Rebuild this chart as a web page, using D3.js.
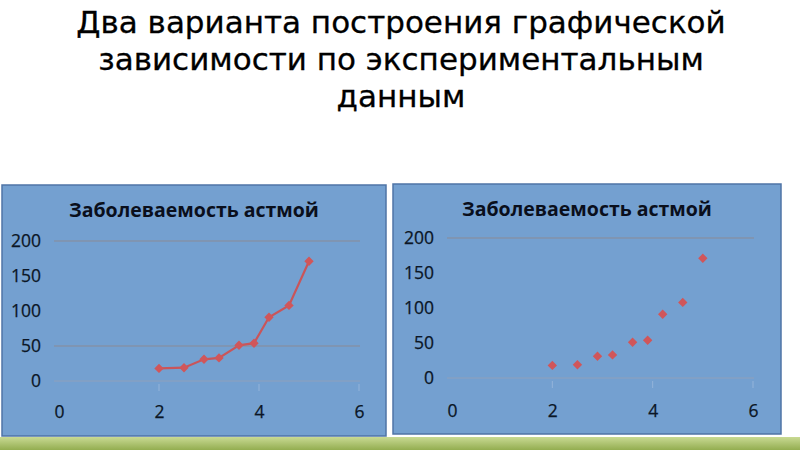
<!DOCTYPE html>
<html>
<head>
<meta charset="utf-8">
<script src="https://cdn.jsdelivr.net/npm/d3@7"></script>
<style>
  body { margin: 0; background: #fff; }
  svg { display: block; }
</style>
</head>
<body>
<svg id="slide" width="800" height="450"></svg>
<script>
'use strict';

// data
const titleLines = ['Два варианта построения графической', 'зависимости по экспериментальным', 'данным'];
const chartTitle = 'Заболеваемость астмой';
const xValues = [2.0, 2.5, 2.9, 3.2, 3.6, 3.9, 4.2, 4.6, 5.0];
const yValues = [18, 19, 31, 33, 51, 54, 91, 108, 171];
const xTicks = [0, 2, 4, 6];
const yTicks = [0, 50, 100, 150, 200];
const gridLeft = [0, 50, 200];
const gridRight = [0, 200];

(function () {
    const svg = d3.select('#slide');

    // slide title
    svg.append('g').selectAll('text')
        .data(titleLines)
        .enter()
        .append('text')
            .attr('x', 401)
            .attr('y', (d, i) => 33 + i * 37)
            .attr('text-anchor', 'middle')
            .style('font-family', 'DejaVu Sans')
            .style('font-size', '31px')
            .style('fill', '#000')
            .style('stroke', '#000')
            .style('stroke-width', 0.3)
            .text(d => d);

    // green strip at the bottom
    const defs = svg.append('defs');
    const grad = defs.append('linearGradient')
        .attr('id', 'strip')
        .attr('x1', 0).attr('y1', 0).attr('x2', 0).attr('y2', 1);
    grad.append('stop').attr('offset', '0%').attr('stop-color', '#c9da93');
    grad.append('stop').attr('offset', '100%').attr('stop-color', '#93ad50');
    svg.append('rect')
        .attr('x', 0).attr('y', 437)
        .attr('width', 800).attr('height', 13)
        .style('fill', 'url(#strip)');

    const data = xValues.map((x, i) => ({x: x, y: yValues[i]}));

    drawChart({box: [2, 185, 384, 251], xr: [59, 359], yr: [381, 241],
        labelY: 413, grid: gridLeft, withLine: true});
    drawChart({box: [393, 184, 388, 250], xr: [452, 753], yr: [378, 238],
        labelY: 412, grid: gridRight, withLine: false});

    function drawChart(opt) {
        const g = svg.append('g');
        const x = d3.scaleLinear().domain([0, 6]).range(opt.xr);
        const y = d3.scaleLinear().domain([0, 200]).range(opt.yr);

        g.append('rect')
            .attr('x', opt.box[0]).attr('y', opt.box[1])
            .attr('width', opt.box[2]).attr('height', opt.box[3])
            .style('fill', '#74a0d0')
            .style('stroke', '#4f74a6')
            .style('stroke-width', 1.5);

        g.append('text')
            .attr('x', opt.box[0] + opt.box[2] / 2)
            .attr('y', opt.box[1] + 32)
            .attr('text-anchor', 'middle')
            .style('font-family', 'Open Sans')
            .style('font-weight', 'bold')
            .style('font-size', '19.5px')
            .style('fill', '#0a0f1c')
            .text(chartTitle);

        // gridlines
        g.selectAll('.grid')
            .data(opt.grid)
            .enter()
            .append('line')
                .attr('class', 'grid')
                .attr('x1', opt.xr[0] - 5).attr('x2', opt.xr[1] + 1)
                .attr('y1', d => y(d)).attr('y2', d => y(d))
                .style('stroke', d => d === 0 ? '#8fa0bb' : '#8a8a95')
                .style('stroke-width', 1);

        // faint tick marks under the zero line
        g.selectAll('.tick-mark')
            .data(xTicks.slice(1))
            .enter()
            .append('line')
                .attr('x1', d => x(d)).attr('x2', d => x(d))
                .attr('y1', y(0) + 3).attr('y2', y(0) + 10)
                .style('stroke', '#94b4da')
                .style('stroke-width', 1);

        // y labels
        const yAxis = d3.axisLeft(y).tickValues(yTicks).tickFormat(d3.format('d'))
            .tickSize(0).tickPadding(0);
        const ya = g.append('g')
            .attr('transform', `translate(${opt.xr[0] - 18},0)`)
            .call(yAxis);
        ya.select('.domain').remove();
        ya.selectAll('text')
            .style('font-family', 'Open Sans')
            .style('font-size', '17.5px')
            .style('fill', '#0b1626')
            .style('stroke', '#0b1626')
            .style('stroke-width', 0.25);

        // x labels
        const xAxis = d3.axisBottom(x).tickValues(xTicks).tickFormat(d3.format('d'))
            .tickSize(0).tickPadding(0);
        const xa = g.append('g')
            .attr('transform', `translate(0,${opt.labelY - 7})`)
            .call(xAxis);
        xa.select('.domain').remove();
        xa.selectAll('text')
            .style('font-family', 'Open Sans')
            .style('font-size', '17.5px')
            .style('fill', '#0b1626')
            .style('stroke', '#0b1626')
            .style('stroke-width', 0.25);

        if (opt.withLine) {
            g.append('path')
                .datum(data)
                .attr('d', d3.line().x(d => x(d.x)).y(d => y(d.y)))
                .style('fill', 'none')
                .style('stroke', '#c9555a')
                .style('stroke-width', 2.2);
        }

        g.selectAll('.pt')
            .data(data)
            .enter()
            .append('path')
                .attr('class', 'pt')
                .attr('transform', d => `translate(${x(d.x)},${y(d.y)}) rotate(45)`)
                .attr('d', d3.symbol().type(d3.symbolSquare).size(44))
                .style('fill', '#d0565a');
    }
})();
</script>
</body>
</html>
